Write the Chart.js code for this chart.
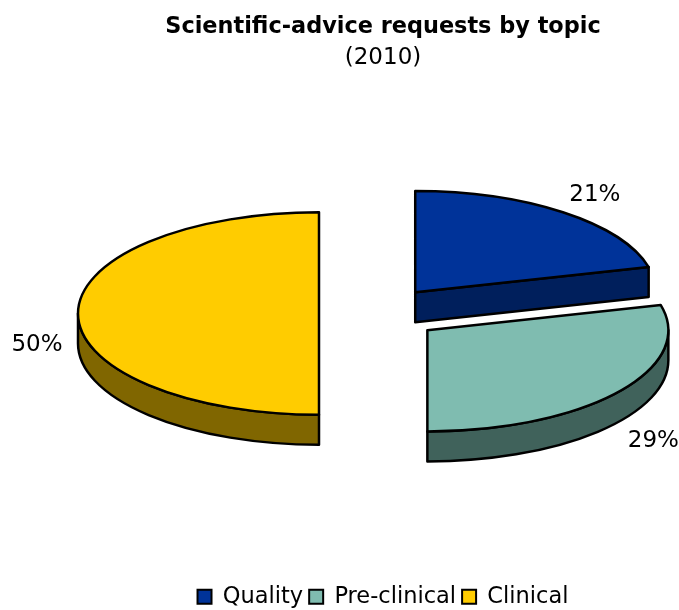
<!DOCTYPE html>
<html>
<head>
<meta charset="utf-8">
<style>
  body { margin: 0; background: #fff; }
  canvas { display: block; }
</style>
<script src="https://cdn.jsdelivr.net/npm/chart.js@4"></script>
</head>
<body>
<canvas id="chart" width="679" height="610"></canvas>
<script>
const categories = ["Quality", "Pre-clinical", "Clinical"];
const shares = [21, 29, 50];
const topColors = ["#003399", "#7FBCB0", "#FFCC00"];
const sideColors = ["#001F5C", "#40625B", "#806600"];
const explode = [64, 65, 57];

const fontName = "'DejaVu Sans', Verdana, sans-serif";
const pieX = 376;
const pieY = 313.5;
const pieRadius = 241;
const tilt = 0.42;
const depth = 30;
// the percent labels do not sit on one clean ring in the original
const labelRadius = [293, 286, 282];
const labelDrop = [0, 37, 32];

// pixel position of a point on slice i, after tilt and explode
function place(arc, i, angle, r, drop) {
  const mid = (arc.startAngle + arc.endAngle) / 2;
  return {
    x: pieX + explode[i] * Math.cos(mid) + r * Math.cos(angle),
    y: pieY + tilt * (explode[i] * Math.sin(mid) + r * Math.sin(angle)) + drop,
  };
}

function drawWalls(ctx, arc, i) {
  const r = arc.outerRadius;
  ctx.fillStyle = sideColors[i];
  ctx.strokeStyle = "#000";
  ctx.lineWidth = 2.5;
  ctx.lineJoin = "round";

  // the cut face that looks at the viewer
  [arc.startAngle, arc.endAngle].forEach((a, side) => {
    const facing = side === 0 ? Math.cos(a) < -0.001 : Math.cos(a) > 0.001;
    if (!facing) return;
    const c = place(arc, i, a, 0, 0);
    const e = place(arc, i, a, r, 0);
    ctx.beginPath();
    ctx.moveTo(c.x, c.y);
    ctx.lineTo(e.x, e.y);
    ctx.lineTo(e.x, e.y + depth);
    ctx.lineTo(c.x, c.y + depth);
    ctx.closePath();
    ctx.fill();
    ctx.stroke();
  });

  // outer rim, only the front half of the ellipse shows
  const from = Math.max(arc.startAngle, 0);
  const to = Math.min(arc.endAngle, Math.PI);
  if (to > from) {
    const c = place(arc, i, 0, 0, 0);
    ctx.beginPath();
    ctx.ellipse(c.x, c.y, r, r * tilt, 0, from, to);
    ctx.ellipse(c.x, c.y + depth, r, r * tilt, 0, to, from, true);
    ctx.closePath();
    ctx.fill();
    ctx.stroke();
  }
}

const tiltedPie = {
  id: "tiltedPie",
  beforeDatasetDraw(chart, args) {
    const ctx = chart.ctx;
    const arcs = args.meta.data;
    arcs.forEach((arc, i) => {
      drawWalls(ctx, arc, i);

      const c = place(arc, i, 0, 0, 0);
      ctx.save();
      ctx.translate(c.x, c.y);
      ctx.scale(1, tilt);
      ctx.translate(-arc.x, -arc.y);
      arc.draw(ctx);
      ctx.restore();

      // outline here so the line keeps its width under the tilt
      ctx.beginPath();
      ctx.moveTo(c.x, c.y);
      ctx.ellipse(c.x, c.y, arc.outerRadius, arc.outerRadius * tilt, 0, arc.startAngle, arc.endAngle);
      ctx.closePath();
      ctx.strokeStyle = "#000";
      ctx.lineWidth = 2.5;
      ctx.lineJoin = "round";
      ctx.stroke();

      const mid = (arc.startAngle + arc.endAngle) / 2;
      const p = place(arc, i, mid, labelRadius[i], labelDrop[i]);
      ctx.fillStyle = "#000";
      ctx.font = "23px " + fontName;
      ctx.textAlign = "center";
      ctx.textBaseline = "middle";
      ctx.fillText(shares[i] + "%", p.x, p.y);
    });
    return false;
  },
};

new Chart(document.getElementById("chart"), {
  type: "pie",
  data: {
    labels: categories,
    datasets: [{
      data: shares,
      backgroundColor: topColors,
      borderWidth: 0,
      radius: pieRadius,
      clip: false,
    }],
  },
  plugins: [tiltedPie],
  options: {
    responsive: false,
    animation: false,
    layout: { padding: { left: 87, right: 0, top: 14, bottom: -8 } },
    plugins: {
      tooltip: { enabled: false },
      title: {
        display: true,
        text: "Scientific-advice requests by topic",
        color: "#000",
        font: { family: fontName, size: 22.4, weight: "bold" },
        padding: { top: 0, bottom: 3 },
      },
      subtitle: {
        display: true,
        text: "(2010)",
        color: "#000",
        font: { family: fontName, size: 23, weight: "normal" },
        padding: 0,
      },
      legend: {
        position: "bottom",
        labels: {
          color: "#000",
          font: { family: fontName, size: 22.5 },
          boxWidth: 14,
          boxHeight: 14,
          padding: 6,
          generateLabels: () => categories.map((name, i) => ({
            text: name,
            fillStyle: topColors[i],
            strokeStyle: "#000",
            lineWidth: 2,
            index: i,
          })),
        },
      },
    },
  },
});
</script>
</body>
</html>
